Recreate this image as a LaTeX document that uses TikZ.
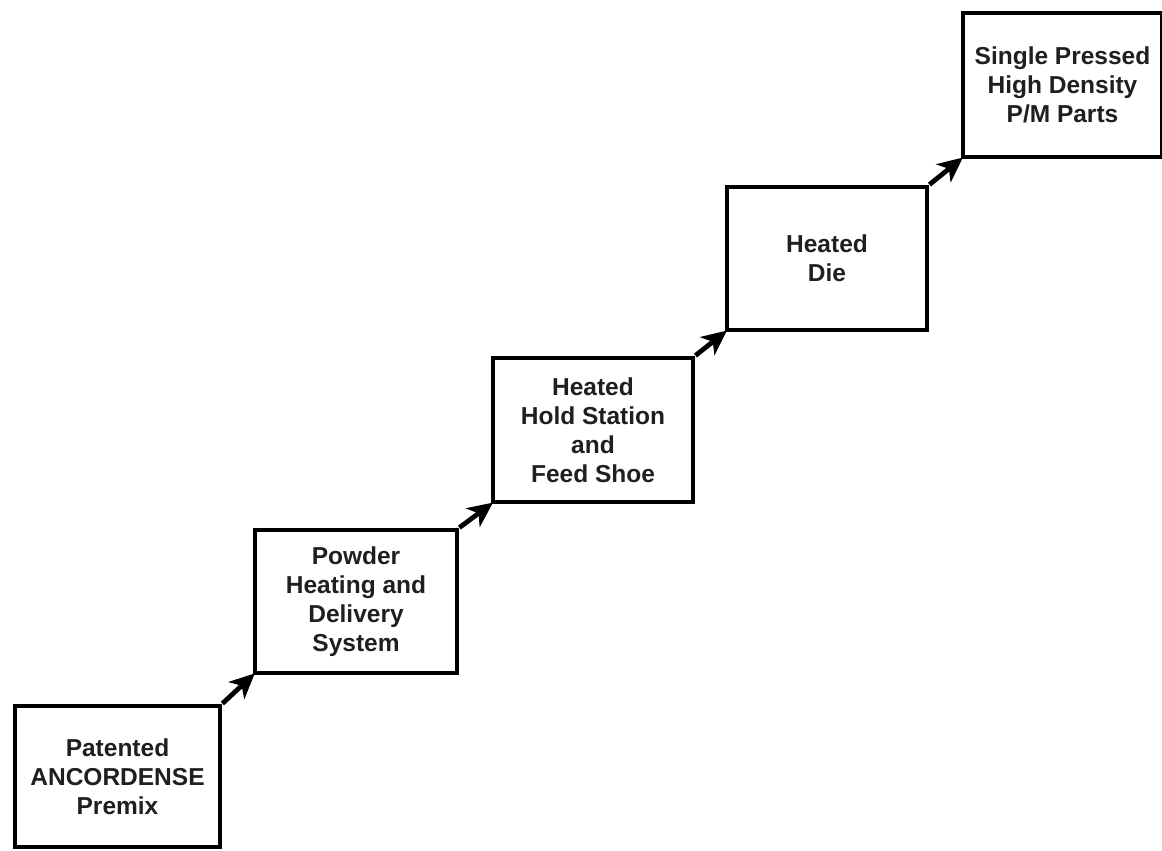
\documentclass[tikz,border=0pt]{standalone}
\usepackage{fontspec}
\setmainfont{Liberation Sans}
\usetikzlibrary{arrows.meta}
\begin{document}
\begin{tikzpicture}[x=1pt,y=-1pt,
  stagebox/.style={draw=black, line width=4.8pt, inner sep=0pt, align=center,
    font=\fontsize{24.5}{29}\selectfont\bfseries, text=black!88},
  flowarrow/.style={line width=4.8pt, -{Stealth[length=25pt,width=23pt,inset=7pt]}, shorten >=-3pt}]
\useasboundingbox (0,0) rectangle (1162,851);
\node[stagebox, minimum width=205pt, minimum height=141pt] (premix) at (117.5,776.5) {Patented\\ANCORDENSE\\Premix};
\node[stagebox, minimum width=202pt, minimum height=143pt] (powder) at (356,601.5) {Powder\\Heating and\\Delivery\\System};
\node[stagebox, minimum width=200pt, minimum height=144pt] (hold) at (593,430) {Heated\\Hold Station\\and\\Feed Shoe};
\node[stagebox, minimum width=200pt, minimum height=143pt] (die) at (827,258.5) {Heated\\Die};
\node[stagebox, minimum width=199pt, minimum height=144pt] (parts) at (1062.5,85) {Single Pressed\\High Density\\P/M Parts};
\draw[flowarrow] (premix.north east) -- (powder.south west);
\draw[flowarrow] (powder.north east) -- (hold.south west);
\draw[flowarrow] (hold.north east) -- (die.south west);
\draw[flowarrow] (die.north east) -- (parts.south west);
\end{tikzpicture}
\end{document}
